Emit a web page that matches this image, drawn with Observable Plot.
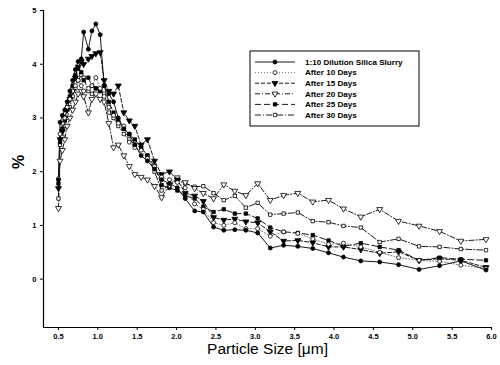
<!DOCTYPE html>
<html><head><meta charset="utf-8">
<script src="https://cdn.jsdelivr.net/npm/d3@7"></script>
<script src="https://cdn.jsdelivr.net/npm/@observablehq/plot@0.6"></script>
<style>
body{margin:0;background:#fff}
#chart{position:relative;width:500px;height:365px}
svg{font-family:Arial,"Liberation Sans",sans-serif}
</style>
</head><body><div id="chart"></div>
<script>
// Particle sizes (µm)
const sizes = [0.50,0.52,0.55,0.58,0.61,0.645,0.68,0.715,0.75,0.79,0.82,0.88,0.925,0.975,1.03,1.08,1.14,1.20,1.26,1.33,1.40,1.47,1.55,1.63,1.72,1.81,1.91,2.01,2.11,2.23,2.34,2.47,2.60,2.74,2.88,3.03,3.19,3.36,3.54,3.73,3.93,4.12,4.34,4.58,4.82,5.08,5.34,5.61,5.93];

const seriesNames = ["1:10 Dilution Silica Slurry","After 10 Days","After 15 Days","After 20 Days","After 25 Days","After 30 Days"];

const dilution = [1.85,2.92,3.05,3.15,3.30,3.50,3.70,3.90,4.05,4.10,4.60,4.28,4.62,4.75,4.55,3.60,3.45,3.30,3.00,2.80,2.70,2.50,2.30,2.20,2.05,1.85,1.78,1.70,1.50,1.27,1.25,0.97,0.91,0.92,0.91,0.86,0.58,0.63,0.61,0.57,0.49,0.41,0.34,0.32,0.27,0.18,0.25,0.34,0.17];
const after10 = [1.87,2.70,2.90,3.00,3.20,3.35,3.50,3.60,3.70,3.60,3.50,3.55,3.60,3.75,3.55,3.40,3.20,3.05,2.90,2.85,2.55,2.45,2.40,2.25,2.10,1.90,1.85,1.80,1.70,1.40,1.30,1.05,1.00,1.05,0.94,0.94,0.80,0.88,0.85,0.75,0.65,0.67,0.60,0.50,0.40,0.35,0.33,0.26,0.20];
const after15 = [1.69,2.60,2.75,3.00,3.15,3.35,3.50,3.75,3.95,4.05,4.00,4.10,4.15,4.20,4.22,3.70,3.50,3.45,3.60,3.10,2.95,2.85,2.50,2.60,2.20,1.95,2.00,1.85,1.60,1.55,1.45,1.15,1.10,1.12,1.07,1.05,0.88,0.71,0.72,0.68,0.60,0.60,0.55,0.48,0.51,0.35,0.38,0.35,0.22];
const after20 = [1.32,2.20,2.40,2.60,2.85,3.00,3.15,3.30,3.45,3.50,3.40,3.10,3.35,3.45,3.35,3.30,2.90,2.45,2.50,2.30,2.10,1.95,1.90,1.85,1.73,1.52,1.75,1.89,1.80,1.69,1.60,1.50,1.76,1.64,1.56,1.78,1.47,1.56,1.60,1.44,1.47,1.31,1.16,1.30,1.08,0.99,0.89,0.71,0.74];
const after25 = [1.78,2.55,2.80,2.95,3.20,3.40,3.60,3.80,3.92,3.85,3.70,3.75,3.60,3.55,3.50,3.60,3.30,3.10,2.95,2.80,2.70,2.60,2.45,2.30,2.10,1.75,1.70,1.65,1.55,1.50,1.35,1.25,1.30,1.22,1.22,1.13,0.96,0.88,0.86,0.82,0.72,0.61,0.67,0.60,0.54,0.35,0.40,0.37,0.35];
const after30 = [1.50,2.50,2.65,2.85,3.00,3.20,3.40,3.55,3.70,3.80,3.75,3.50,3.45,3.55,3.50,3.45,3.10,3.00,2.85,2.70,2.60,2.50,2.45,2.30,2.00,1.65,1.75,1.85,1.78,1.72,1.73,1.60,1.47,1.55,1.33,1.42,1.20,1.22,1.24,1.08,1.06,0.99,0.96,0.69,0.75,0.61,0.60,0.56,0.54];

const xTicks = [0.5,1.0,1.5,2.0,2.5,3.0,3.5,4.0,4.5,5.0,5.5,6.0];
const yTicks = [0,1,2,3,4,5];
const xDomain = [0.31, 6.0];
const yDomain = [-0.9, 5.0];

const seriesValues = [dilution, after10, after15, after20, after25, after30];
const styles = [
  {symbol:"circle", fill:"black", dash:null, rotate:0, lineColor:"#000", r:2.0},
  {symbol:"circle", fill:"white", dash:"1,2", rotate:0, lineColor:"#666", r:2.0},
  {symbol:"triangle", fill:"black", dash:"4,2", rotate:180, lineColor:"#000", r:2.2},
  {symbol:"triangle", fill:"white", dash:"5,2,1,2", rotate:180, lineColor:"#000", r:2.2},
  {symbol:"square", fill:"black", dash:"6,3", rotate:0, lineColor:"#000", r:1.9},
  {symbol:"square", fill:"white", dash:"6,2,1,2", rotate:0, lineColor:"#000", r:1.9}
];

const rows = [];
seriesValues.forEach((vals, s) => vals.forEach((v, i) => rows.push({x: sizes[i], y: v, s})));

const marks = [];
for (let s = seriesNames.length - 1; s >= 0; s--) {
  const st = styles[s];
  const d = rows.filter(r => r.s === s);
  marks.push(Plot.line(d, {x:"x", y:"y", stroke: st.lineColor, strokeWidth: 0.9, strokeDasharray: st.dash}));
}
for (let s = seriesNames.length - 1; s >= 0; s--) {
  const st = styles[s];
  const d = rows.filter(r => r.s === s);
  marks.push(Plot.dot(d, {x:"x", y:"y", symbol: st.symbol, r: st.r, fill: st.fill, stroke:"black", strokeWidth: 0.8, rotate: st.rotate}));
}

const chart = Plot.plot({
  width: 500, height: 365,
  marginLeft: 43, marginRight: 9, marginTop: 10, marginBottom: 38,
  x: {domain: xDomain},
  y: {domain: yDomain},
  style: {fontFamily: "Arial, 'Liberation Sans', sans-serif", background: "white", color: "black"},
  marks: [
    Plot.ruleX([xDomain[0]], {stroke: "black", strokeWidth: 1.2}),
    Plot.ruleY([yDomain[0]], {stroke: "black", strokeWidth: 1.2}),
    Plot.axisX({ticks: xTicks, tickFormat: d3.format(".1f"), tickSize: 3, tickPadding: 3, fontSize: 7.5, fontWeight: "bold", label: null}),
    Plot.axisY({ticks: yTicks, tickFormat: d3.format("d"), tickSize: 3, tickPadding: 4, fontSize: 7.5, fontWeight: "bold", label: null}),
    ...marks,
    Plot.text(["%"], {frameAnchor: "left", dx: -25, rotate: -90, fontSize: 16, fontWeight: "bold"}),
    Plot.text(["Particle Size [\u03bcm]"], {frameAnchor: "bottom", dy: 26, fontSize: 15.5})
  ]
});

// Legend box inside the plot area
const svg = d3.select(chart);
const lg = svg.append("g").attr("transform", "translate(250,51)").attr("text-anchor", "start");
lg.append("rect").attr("x", 0).attr("y", 0).attr("width", 169).attr("height", 75)
  .attr("fill", "white").attr("stroke", "black").attr("stroke-width", 1);
seriesNames.forEach((name, i) => {
  const st = styles[i];
  const yy = 11 + i * 10.6;
  lg.append("line").attr("x1", 5).attr("x2", 45).attr("y1", yy).attr("y2", yy)
    .attr("stroke", st.lineColor).attr("stroke-width", 0.9).attr("stroke-dasharray", st.dash);
  const sym = {circle: d3.symbolCircle, triangle: d3.symbolTriangle, square: d3.symbolSquare}[st.symbol];
  lg.append("path").attr("d", d3.symbol(sym, Math.PI * st.r * st.r)())
    .attr("transform", `translate(25,${yy}) rotate(${st.rotate})`)
    .attr("fill", st.fill).attr("stroke", "black").attr("stroke-width", 0.8);
  lg.append("text").attr("x", 55).attr("y", yy).attr("dy", "0.35em").attr("text-anchor", "start")
    .attr("font-size", 8.1).attr("font-weight", "bold").attr("fill", "black").text(name);
});

document.getElementById("chart").appendChild(chart);
</script>
</body></html>
